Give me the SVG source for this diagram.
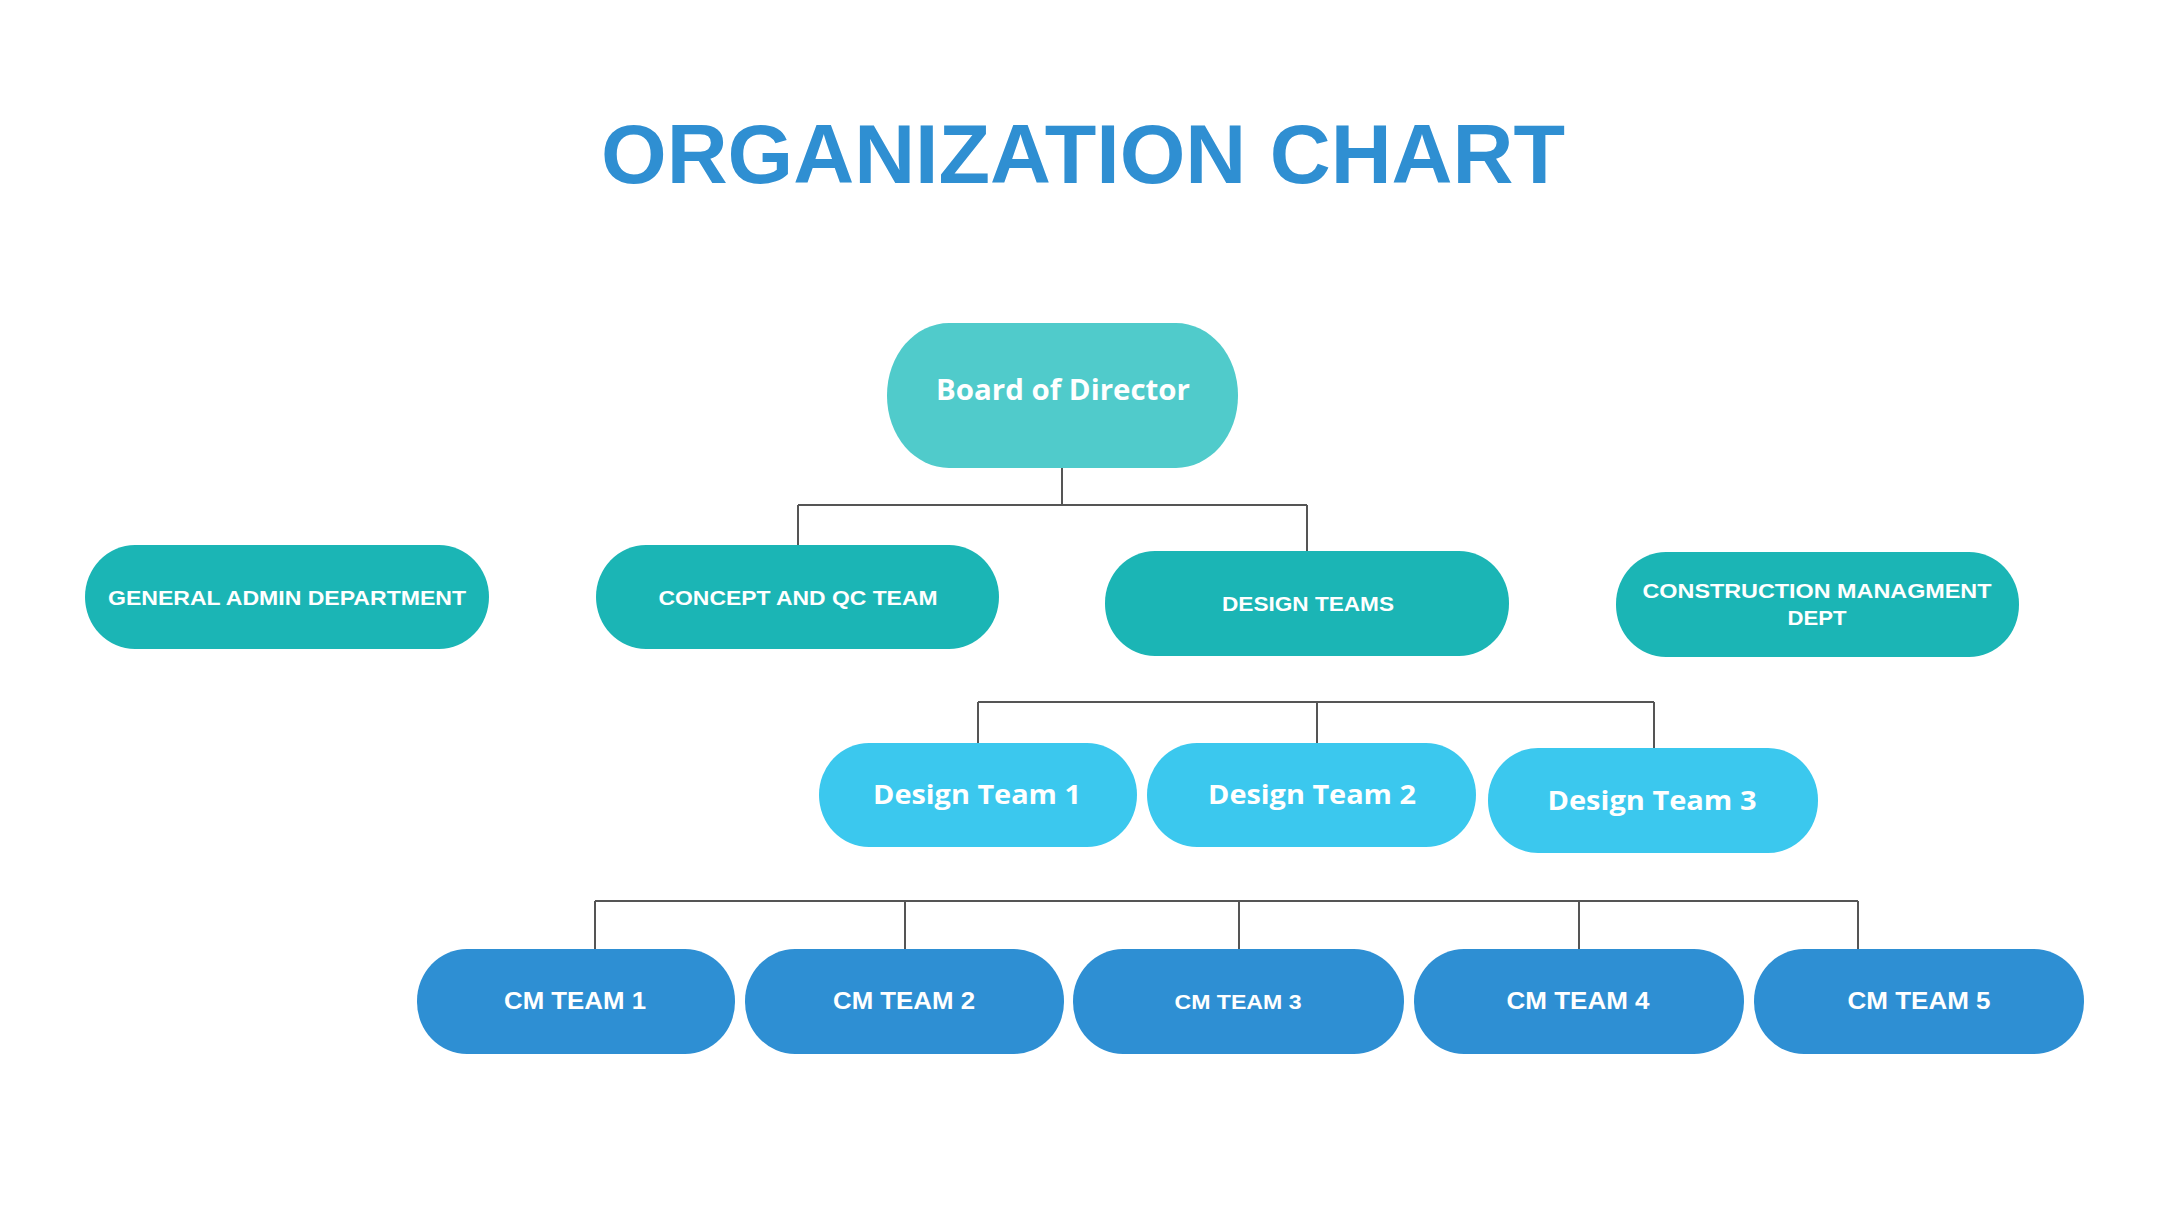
<svg xmlns="http://www.w3.org/2000/svg" width="2160" height="1215" viewBox="0 0 2160 1215">
<style>
.t{font-family:"Liberation Sans",Arial,sans-serif;font-weight:bold;fill:#ffffff;text-anchor:middle}
.p{font-family:"Open Sans","Liberation Sans",sans-serif;font-weight:bold;fill:#ffffff;text-anchor:middle}
.l2{fill:#1bb5b5}
.dt{fill:#3bc8ee}
.cm{fill:#2e8fd3}
.c{stroke:#555555;stroke-width:2;fill:none}
</style>
<rect width="2160" height="1215" fill="#ffffff"/>
<text x="1083" y="183" font-family="Liberation Sans,Arial,sans-serif" font-weight="bold" font-size="84" fill="#2f8fd2" text-anchor="middle" textLength="964" lengthAdjust="spacingAndGlyphs">ORGANIZATION CHART</text>
<g id="connectors">
<path class="c" d="M1062 468V505M798 505H1307M798 505V545M1307 505V551"/>
<path class="c" d="M978 702H1654M978 702V743M1317 702V743M1654 702V748"/>
<path class="c" d="M595 901H1858M595 901V949M905 901V949M1239 901V949M1579 901V949M1858 901V949"/>
</g>
<g id="board"><rect x="887" y="323" width="351" height="145" rx="62" ry="72" fill="#50cbcb"/><text class="p" x="1063" y="400" font-size="29" textLength="254" lengthAdjust="spacingAndGlyphs">Board of Director</text></g>
<g id="general-admin"><rect class="l2" x="85" y="545" width="404" height="104" rx="50" ry="52"/><text class="t" x="287" y="605" font-size="21" textLength="358" lengthAdjust="spacingAndGlyphs">GENERAL ADMIN DEPARTMENT</text></g>
<g id="concept-qc"><rect class="l2" x="596" y="545" width="403" height="104" rx="50" ry="52"/><text class="t" x="798" y="605" font-size="21" textLength="279" lengthAdjust="spacingAndGlyphs">CONCEPT AND QC TEAM</text></g>
<g id="design-teams"><rect class="l2" x="1105" y="551" width="404" height="105" rx="50" ry="52"/><text class="t" x="1308" y="611" font-size="21" textLength="172" lengthAdjust="spacingAndGlyphs">DESIGN TEAMS</text></g>
<g id="construction"><rect class="l2" x="1616" y="552" width="403" height="105" rx="50" ry="52"/><text class="t" x="1817" y="598" font-size="21" textLength="349" lengthAdjust="spacingAndGlyphs">CONSTRUCTION MANAGMENT</text><text class="t" x="1817" y="625" font-size="21" textLength="59" lengthAdjust="spacingAndGlyphs">DEPT</text></g>
<g id="design-team-1"><rect class="dt" x="819" y="743" width="318" height="104" rx="50" ry="52"/><text class="p" x="977" y="804" font-size="27" textLength="208" lengthAdjust="spacingAndGlyphs">Design Team 1</text></g>
<g id="design-team-2"><rect class="dt" x="1147" y="743" width="329" height="104" rx="50" ry="52"/><text class="p" x="1312" y="804" font-size="27" textLength="208" lengthAdjust="spacingAndGlyphs">Design Team 2</text></g>
<g id="design-team-3"><rect class="dt" x="1488" y="748" width="330" height="105" rx="50" ry="52"/><text class="p" x="1652" y="810" font-size="27" textLength="209" lengthAdjust="spacingAndGlyphs">Design Team 3</text></g>
<g id="cm-team-1"><rect class="cm" x="417" y="949" width="318" height="105" rx="50" ry="52"/><text class="t" x="575" y="1009" font-size="23" textLength="142" lengthAdjust="spacingAndGlyphs">CM TEAM 1</text></g>
<g id="cm-team-2"><rect class="cm" x="745" y="949" width="319" height="105" rx="50" ry="52"/><text class="t" x="904" y="1009" font-size="23" textLength="142" lengthAdjust="spacingAndGlyphs">CM TEAM 2</text></g>
<g id="cm-team-3"><rect class="cm" x="1073" y="949" width="331" height="105" rx="50" ry="52"/><text class="t" x="1238" y="1009" font-size="21" textLength="127" lengthAdjust="spacingAndGlyphs">CM TEAM 3</text></g>
<g id="cm-team-4"><rect class="cm" x="1414" y="949" width="330" height="105" rx="50" ry="52"/><text class="t" x="1578" y="1009" font-size="23" textLength="143" lengthAdjust="spacingAndGlyphs">CM TEAM 4</text></g>
<g id="cm-team-5"><rect class="cm" x="1754" y="949" width="330" height="105" rx="50" ry="52"/><text class="t" x="1919" y="1009" font-size="23" textLength="143" lengthAdjust="spacingAndGlyphs">CM TEAM 5</text></g>
</svg>
